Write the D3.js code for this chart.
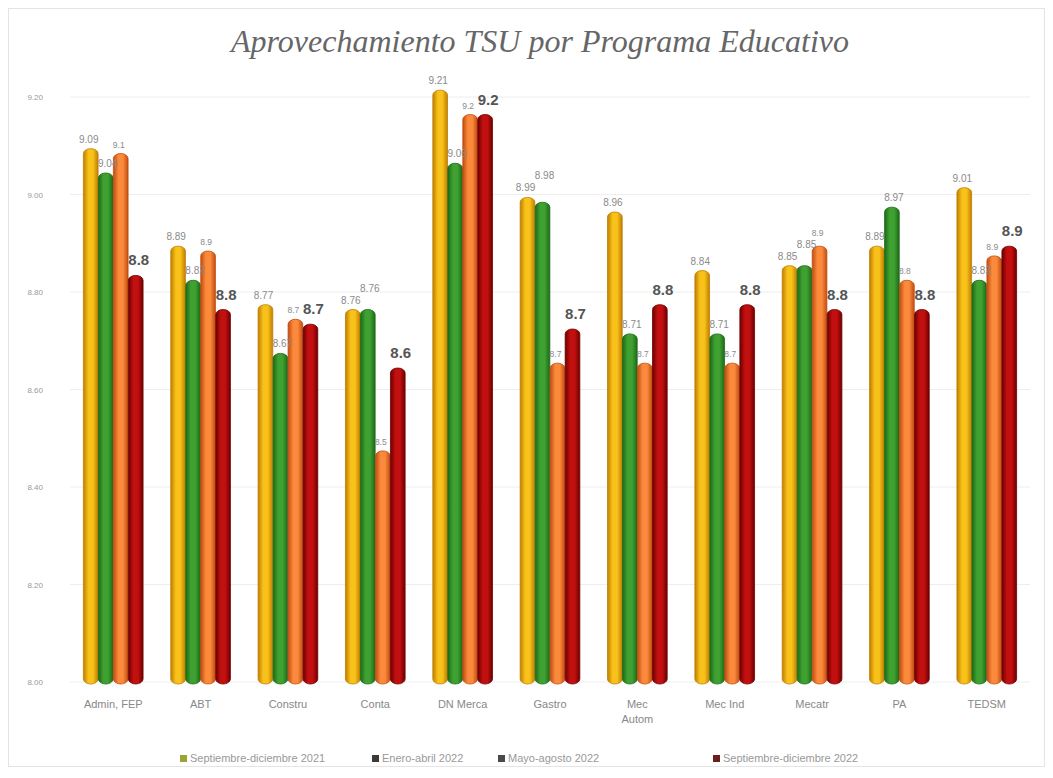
<!DOCTYPE html>
<html>
<head>
<meta charset="utf-8">
<script src="https://cdn.jsdelivr.net/npm/d3@7"></script>
<style>
  body { margin: 0; background: #fff; }
  svg { display: block; }
</style>
</head>
<body>
<script>
// values
const programas = ["Admin, FEP", "ABT", "Constru", "Conta", "DN Merca", "Gastro", "Mec\nAutom", "Mec Ind", "Mecatr", "PA", "TEDSM"];
const periodos = ["Septiembre-diciembre 2021", "Enero-abril 2022", "Mayo-agosto 2022", "Septiembre-diciembre 2022"];
const sepDic2021 = [9.09, 8.89, 8.77, 8.76, 9.21, 8.99, 8.96, 8.84, 8.85, 8.89, 9.01];
const eneAbr2022 = [9.04, 8.82, 8.67, 8.76, 9.06, 8.98, 8.71, 8.71, 8.85, 8.97, 8.82];
const mayAgo2022 = [9.08, 8.88, 8.74, 8.47, 9.16, 8.65, 8.65, 8.65, 8.89, 8.82, 8.87];
const sepDic2022 = [8.83, 8.76, 8.73, 8.64, 9.16, 8.72, 8.77, 8.77, 8.76, 8.76, 8.89];
const yTicks = [8.0, 8.2, 8.4, 8.6, 8.8, 9.0, 9.2];

const series = [sepDic2021, eneAbr2022, mayAgo2022, sepDic2022];
const fills = [["#c07e00", "#f8c21a"], ["#1c6a16", "#3fa132"], ["#c24c10", "#fb8a3c"], ["#6e0000", "#c21010"]];
const legendCol = ["#9aa534", "#3a3a3a", "#4a4a4a", "#6b1e1e"];

const width = 1053, height = 778;
const margin = {top: 97, right: 23, bottom: 96, left: 70};

const svg = d3.select("body").append("svg").attr("width", width).attr("height", height);

svg.append("rect").attr("x", 8.5).attr("y", 8.5).attr("width", width - 17).attr("height", height - 20)
  .attr("fill", "#fff").attr("stroke", "#e4e4e4");

svg.append("text").attr("x", 540).attr("y", 52).attr("text-anchor", "middle")
  .attr("font-family", "Liberation Serif").attr("font-style", "italic")
  .attr("font-size", 32).attr("fill", "#666").text("Aprovechamiento TSU por Programa Educativo");

const defs = svg.append("defs");
fills.forEach((f, i) => {
  const g = defs.append("linearGradient").attr("id", "g" + i).attr("x1", 0).attr("x2", 1).attr("y1", 0).attr("y2", 0);
  g.append("stop").attr("offset", "0%").attr("stop-color", f[0]);
  g.append("stop").attr("offset", "35%").attr("stop-color", f[1]);
  g.append("stop").attr("offset", "65%").attr("stop-color", f[1]);
  g.append("stop").attr("offset", "100%").attr("stop-color", f[0]);
});

const x0 = d3.scaleBand().domain(programas).range([margin.left, width - margin.right]).paddingInner(0.31).paddingOuter(0.15);
const x1 = d3.scaleBand().domain(d3.range(4)).range([0, x0.bandwidth()]).padding(0.02);
const y = d3.scaleLinear().domain([8, 9.2]).range([height - margin.bottom, margin.top]);

// grid
svg.append("g").selectAll("line").data(yTicks).join("line")
  .attr("x1", margin.left).attr("x2", width - margin.right)
  .attr("y1", d => y(d)).attr("y2", d => y(d))
  .attr("stroke", "#eeeeee");

const yAxis = svg.append("g").attr("transform", `translate(${margin.left - 24},0)`)
  .call(d3.axisLeft(y).tickValues(yTicks).tickFormat(d3.format(".2f")).tickSize(0));
yAxis.select(".domain").remove();
yAxis.selectAll("text").attr("font-family", "Liberation Sans").attr("font-size", 8).attr("fill", "#999");

// bars
const grp = svg.append("g").selectAll("g").data(programas).join("g")
  .attr("transform", d => `translate(${x0(d)},0)`);

grp.selectAll("rect").data((d, j) => series.map((s, i) => ({i, v: s[j]}))).join("rect")
  .attr("x", d => x1(d.i)).attr("width", x1.bandwidth())
  .attr("y", d => y(d.v) - 2).attr("height", d => y(8) - y(d.v) + 4)
  .attr("rx", x1.bandwidth() / 2).attr("ry", 5)
  .attr("fill", d => `url(#g${d.i})`)
  .attr("stroke", d => fills[d.i][0]).attr("stroke-width", 0.8);

// data labels
const fmt = [d3.format(".2f"), d3.format(".2f"), d3.format(".1f"), d3.format(".1f")];
const labs = grp.selectAll("text").data((d, j) => series.map((s, i) => ({i, v: s[j]}))).join("text")
  .attr("x", d => x1(d.i) + x1.bandwidth() / 2 + [-2, 2, -2, 3][d.i])
  .attr("y", d => y(d.v) - (d.i === 3 ? 12 : 8))
  .attr("text-anchor", "middle")
  .attr("font-family", "Liberation Sans")
  .attr("font-size", d => d.i === 3 ? 15 : (d.i === 2 ? 8.5 : 10))
  .attr("font-weight", d => d.i === 3 ? "bold" : "normal")
  .attr("fill", d => d.i === 3 ? "#555" : "#8a8a8a")
  .text(d => fmt[d.i](d.v));

// nudge labels up when they bump into a neighbour of the same group
grp.each(function() {
  const placed = [];
  d3.select(this).selectAll("text").each(function() {
    const t = d3.select(this);
    let b = this.getBBox();
    for (let k = 0; k < 6; k++) {
      const hit = placed.find(p => b.x < p.x + p.width && p.x < b.x + b.width && b.y < p.y + p.height && p.y < b.y + b.height);
      if (!hit) break;
      t.attr("y", +t.attr("y") - (b.y + b.height - hit.y) - 1);
      b = this.getBBox();
    }
    placed.push(b);
  });
});

// x labels
const xl = svg.append("g").selectAll("text").data(programas).join("text")
  .attr("x", d => x0(d) + x0.bandwidth() / 2).attr("y", height - margin.bottom + 26)
  .attr("text-anchor", "middle").attr("font-family", "Liberation Sans").attr("font-size", 11).attr("fill", "#888");
xl.selectAll("tspan").data(d => d.split("\n")).join("tspan")
  .attr("x", function() { return this.parentNode.getAttribute("x"); })
  .attr("dy", (d, i) => i ? 15 : 0).text(d => d);

// legend
const legX = [180, 372, 498, 713];
const leg = svg.append("g").selectAll("g").data(periodos).join("g")
  .attr("transform", (d, i) => `translate(${legX[i]},762)`);
leg.append("rect").attr("x", 0).attr("y", -7).attr("width", 7).attr("height", 7).attr("fill", (d, i) => legendCol[i]);
leg.append("text").attr("x", 10).attr("y", 0).attr("font-family", "Liberation Sans").attr("font-size", 11)
  .attr("fill", "#999").text(d => d);
</script>
</body>
</html>
